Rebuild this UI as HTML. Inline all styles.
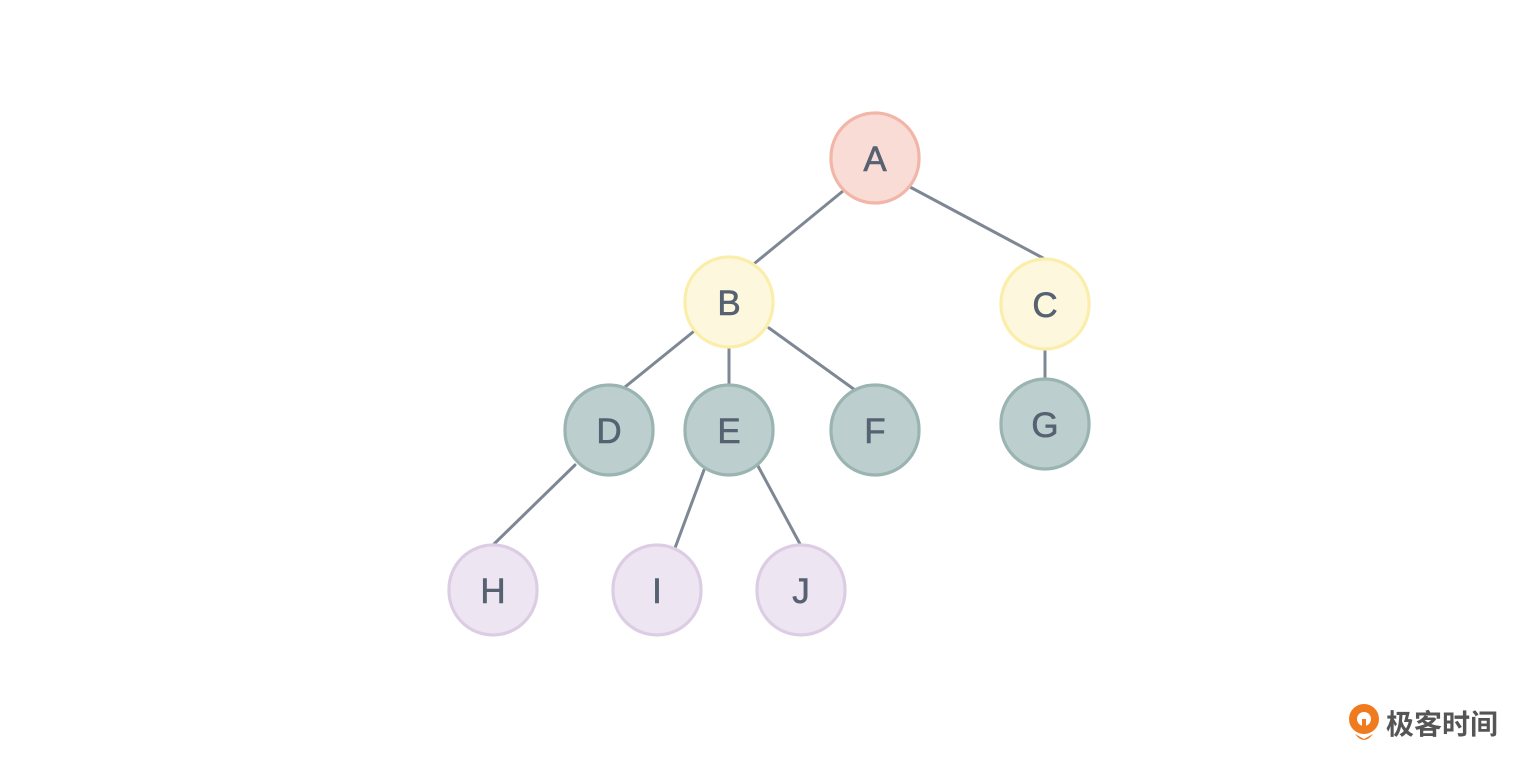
<!DOCTYPE html>
<html><head><meta charset="utf-8"><style>
html,body{margin:0;padding:0;background:#fff;}
svg{display:block}
text{font-family:"Liberation Sans","Noto Sans CJK SC",sans-serif;}
</style></head><body>
<svg width="1537" height="760" viewBox="0 0 1537 760" xmlns="http://www.w3.org/2000/svg">
<g stroke="#7d8894" stroke-width="3" stroke-linecap="round">
<line x1="843" y1="191" x2="755" y2="263"/>
<line x1="910" y1="187" x2="1043" y2="258"/>
<line x1="693" y1="332" x2="625" y2="387"/>
<line x1="729" y1="348" x2="729" y2="384"/>
<line x1="769" y1="328" x2="855" y2="390"/>
<line x1="1045" y1="350" x2="1045" y2="378"/>
<line x1="575" y1="465" x2="494" y2="544"/>
<line x1="704" y1="470" x2="675" y2="548"/>
<line x1="758" y1="466" x2="800" y2="544"/>
</g>
<g stroke-width="3.2">
<rect x="831" y="113" width="88" height="90" rx="44" fill="#fadcd6" stroke="#f2b6a8"/>
<rect x="685" y="257" width="88" height="90" rx="44" fill="#fdf8dd" stroke="#fbeeaa"/>
<rect x="1001" y="259" width="88" height="90" rx="44" fill="#fdf8dd" stroke="#fbeeaa"/>
<rect x="565" y="385" width="88" height="90" rx="44" fill="#bccecd" stroke="#9ab4b1"/>
<rect x="685" y="385" width="88" height="90" rx="44" fill="#bccecd" stroke="#9ab4b1"/>
<rect x="831" y="385" width="88" height="90" rx="44" fill="#bccecd" stroke="#9ab4b1"/>
<rect x="1001" y="379" width="88" height="90" rx="44" fill="#bccecd" stroke="#9ab4b1"/>
<rect x="449" y="545" width="88" height="90" rx="44" fill="#ede5f1" stroke="#dccde4"/>
<rect x="613" y="545" width="88" height="90" rx="44" fill="#ede5f1" stroke="#dccde4"/>
<rect x="757" y="545" width="88" height="90" rx="44" fill="#ede5f1" stroke="#dccde4"/>
</g>
<g font-size="35" fill="#566272" text-anchor="middle" stroke="#566272" stroke-width="0.6">
<text x="875" y="171">A</text>
<text x="729" y="315">B</text>
<text x="1045" y="317">C</text>
<text x="609" y="443">D</text>
<text x="729" y="443">E</text>
<text x="875" y="443">F</text>
<text x="1045" y="437">G</text>
<text x="493" y="603">H</text>
<text x="657" y="603">I</text>
<text x="801" y="603">J</text>
</g>
<g>
<circle cx="1364" cy="719" r="15" fill="#f07a1e"/>
<circle cx="1364" cy="719" r="7" fill="#fff"/>
<path d="M1355 734 Q1364 746 1373 734 L1364 739 Z" fill="#f07a1e"/>
<rect x="1362" y="719" width="4" height="14" fill="#f07a1e"/>
<text x="1386" y="734" font-size="28" fill="#555" font-weight="bold">极客时间</text>
</g>
</svg>
</body></html>
